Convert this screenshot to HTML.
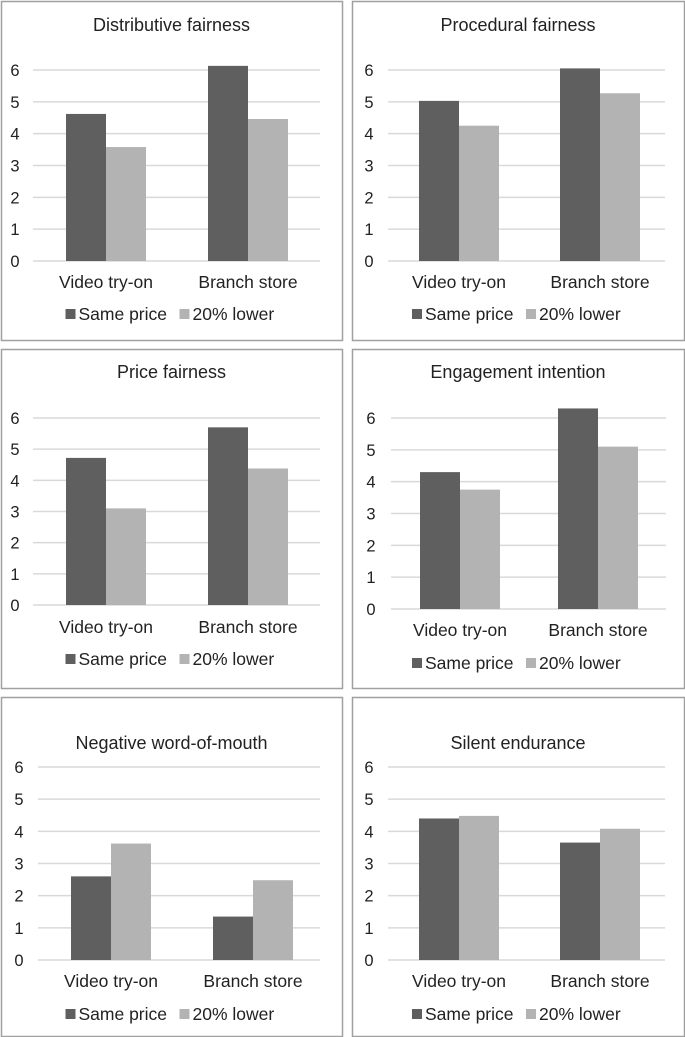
<!DOCTYPE html>
<html><head><meta charset="utf-8"><style>
body{margin:0;background:#fff;}
svg{display:block;font-family:"Liberation Sans",Arial,sans-serif;}
</style></head><body>
<svg id="chart" width="685" height="1037"></svg>
<script>
const titles=["Distributive fairness","Procedural fairness","Price fairness","Engagement intention","Negative word-of-mouth","Silent endurance"];
const categories=["Video try-on","Branch store"];
const seriesNames=["Same price","20% lower"];
const samePrice=[[4.62,6.13],[5.03,6.05],[4.72,5.70],[4.30,6.30],[2.60,1.35],[4.40,3.65]];
const lowerPrice=[[3.58,4.46],[4.25,5.27],[3.10,4.38],[3.75,5.10],[3.62,2.48],[4.48,4.08]];
const yTicks=[0,1,2,3,4,5,6];
const colors=["#5f5f5f","#b3b3b3"];
const layouts=[
 {box:[1,1,341,339],x0:33,x1:320,y0:261,y6:70,tx:15,b:66,gap:142,ty:25,cy:282,ly:314},
 {box:[352,1,332,339],x0:388,x1:665,y0:261,y6:70,tx:369,b:419,gap:141,ty:25,cy:282,ly:314},
 {box:[1,349,341,339],x0:33,x1:320,y0:605,y6:418,tx:15,b:66,gap:142,ty:372,cy:627,ly:659},
 {box:[352,349,332,339],x0:391,x1:666,y0:609,y6:418,tx:371,b:420,gap:138,ty:372,cy:630,ly:663},
 {box:[1,697,341,339],x0:38,x1:320,y0:960,y6:767,tx:19,b:71,gap:142,ty:743,cy:981,ly:1014},
 {box:[352,697,332,339],x0:388,x1:665,y0:960,y6:767,tx:369,b:419,gap:141,ty:743,cy:981,ly:1014}
];
const NS="http://www.w3.org/2000/svg";
const svg=document.getElementById('chart');
function mk(tag,attrs,parent){const e=document.createElementNS(NS,tag);for(const k in attrs)e.setAttribute(k,attrs[k]);parent.appendChild(e);return e;}
layouts.forEach((L,p)=>{
  const g=mk('g',{},svg);
  
  
  const r=mk('rect',{x:L.box[0]+0.5,y:L.box[1]+0.5,width:L.box[2],height:L.box[3],fill:'#fff',stroke:'#a0a0a0','stroke-width':1.5},g);
  
  
  const yS=v=>L.y0+(L.y6-L.y0)*v/6;
  const t=mk('text',{x:L.box[0]+L.box[2]/2,y:L.ty+6,'text-anchor':'middle','font-size':18,fill:'#222'},g);
  t.textContent=titles[p];
  
  
  yTicks.forEach(v=>{
    const ln=mk('line',{x1:L.x0,x2:L.x1,y1:yS(v),y2:yS(v),stroke:'#d9d9d9','stroke-width':1.5},g);
    
    
    const tl=mk('text',{x:L.tx,y:yS(v)+6,'text-anchor':'middle','font-size':16.5,fill:'#222'},g);
    tl.textContent=v;
    
    
  });
  const bw=40;
  categories.forEach((c,i)=>{
    const bx=L.b+i*L.gap;
    [samePrice[p][i],lowerPrice[p][i]].forEach((v,s)=>{
      const b=mk('rect',{x:bx+s*bw,y:yS(v),width:bw,height:L.y0-yS(v),fill:colors[s]},g);
      
      
    });
    const cl=mk('text',{x:bx+bw,y:L.cy+6,'text-anchor':'middle','font-size':17.5,fill:'#222'},g);
    cl.textContent=c;
    
    
  });
  const cx=L.box[0]+L.box[2]/2;
  const lx=[cx-106,cx+8];
  seriesNames.forEach((n,s)=>{
    const sw=mk('rect',{x:lx[s],y:L.ly-5,width:10,height:10,fill:colors[s]},g);
    
    
    const lt=mk('text',{x:lx[s]+13,y:L.ly+6,'font-size':17.5,fill:'#222'},g);
    lt.textContent=n;
    
    
  });
});
</script>
</body></html>
